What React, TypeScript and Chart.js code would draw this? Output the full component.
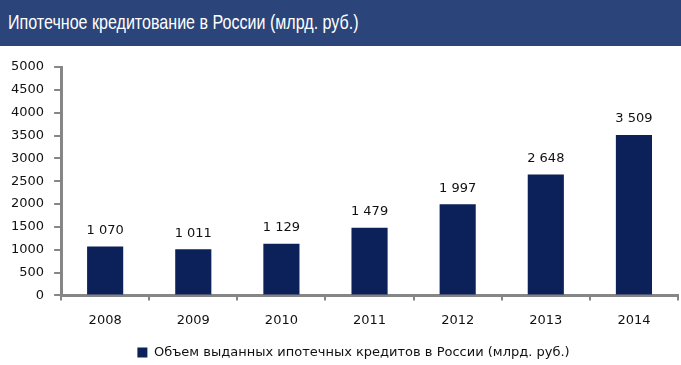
import React, { useEffect, useRef } from "react";
import { Chart, registerables } from "chart.js";

Chart.register(...registerables);

const TITLE = "Ипотечное кредитование в России (млрд. руб.)";
const SERIES_LABEL = "Объем выданных ипотечных кредитов в России (млрд. руб.)";
const YEARS = ["2008", "2009", "2010", "2011", "2012", "2013", "2014"];
const VALUES = [1070, 1011, 1129, 1479, 1997, 2648, 3509];
const Y_TICKS = [0, 500, 1000, 1500, 2000, 2500, 3000, 3500, 4000, 4500, 5000];

const BAR_COLOR = "#0C215A";
const AXIS_COLOR = "#868686";
const FONT = "'DejaVu Sans', sans-serif";

function fmt(v: number): string {
  const s = String(v);
  return s.length > 3 ? s.slice(0, s.length - 3) + " " + s.slice(-3) : s;
}

const valueLabels = {
  id: "valueLabels",
  afterDatasetsDraw(chart: any) {
    const ctx = chart.ctx;
    const meta = chart.getDatasetMeta(0);
    ctx.save();
    ctx.font = "13px " + FONT;
    ctx.fillStyle = "#111";
    ctx.textAlign = "center";
    ctx.textBaseline = "middle";
    meta.data.forEach((bar: any, i: number) => {
      ctx.fillText(fmt(VALUES[i]), bar.x, bar.y - 16);
    });
    ctx.restore();
  },
};

const legendShift = {
  id: "legendShift",
  afterLayout(chart: any) {
    const lg = chart.legend;
    if (lg) {
      lg.left += 14;
      lg.right += 14;
      lg.top += 4;
      lg.bottom += 4;
    }
  },
};

export default function App() {
  const ref = useRef<HTMLCanvasElement | null>(null);

  useEffect(() => {
    document.body.style.margin = "0";
    if (!ref.current) return;
    const chart = new Chart(ref.current, {
      type: "bar",
      data: {
        labels: YEARS,
        datasets: [
          {
            label: SERIES_LABEL,
            data: VALUES,
            backgroundColor: BAR_COLOR,
            categoryPercentage: 1,
            barPercentage: 0.41,
          },
        ],
      },
      options: {
        animation: false,
        responsive: false,
        maintainAspectRatio: false,
        layout: { padding: { top: 21, right: 3, left: 1, bottom: 0 } },
        plugins: {
          tooltip: { enabled: false },
          legend: {
            position: "bottom",
            labels: {
              boxWidth: 10,
              boxHeight: 10,
              color: "#111",
              font: { family: FONT, size: 13 },
              padding: 2,
            },
          },
        },
        scales: {
          x: {
            grid: {
              display: true,
              drawOnChartArea: false,
              tickLength: 5,
              color: AXIS_COLOR,
              lineWidth: 2,
            },
            border: { color: AXIS_COLOR, width: 3 },
            ticks: { color: "#111", font: { family: FONT, size: 13 }, padding: 12 },
          },
          y: {
            min: 0,
            max: 5000,
            afterBuildTicks: (axis: any) => {
              axis.ticks = Y_TICKS.map((v) => ({ value: v }));
            },
            grid: {
              display: true,
              drawOnChartArea: false,
              tickLength: 7,
              color: AXIS_COLOR,
              lineWidth: 2,
            },
            border: { color: AXIS_COLOR, width: 3 },
            ticks: {
              color: "#111",
              font: { family: FONT, size: 13 },
              padding: 10,
              callback: (v: any) => String(v),
            },
          },
        },
      },
      plugins: [valueLabels, legendShift],
    });
    return () => chart.destroy();
  }, []);

  return (
    <div style={{ width: 681, height: 365, background: "#fff", overflow: "hidden" }}>
      <div
        style={{
          height: 46,
          background: "#2B4479",
          color: "#fff",
          fontFamily: "'Liberation Sans', Arial, sans-serif",
          fontSize: 21,
          lineHeight: "44px",
          paddingLeft: 8,
          boxSizing: "border-box",
          whiteSpace: "nowrap",
        }}
      >
        <span
          style={{
            display: "inline-block",
            transform: "scaleX(0.765)",
            transformOrigin: "left center",
          }}
        >
          {TITLE}
        </span>
      </div>
      <canvas ref={ref} width={681} height={319} style={{ display: "block" }} />
    </div>
  );
}
